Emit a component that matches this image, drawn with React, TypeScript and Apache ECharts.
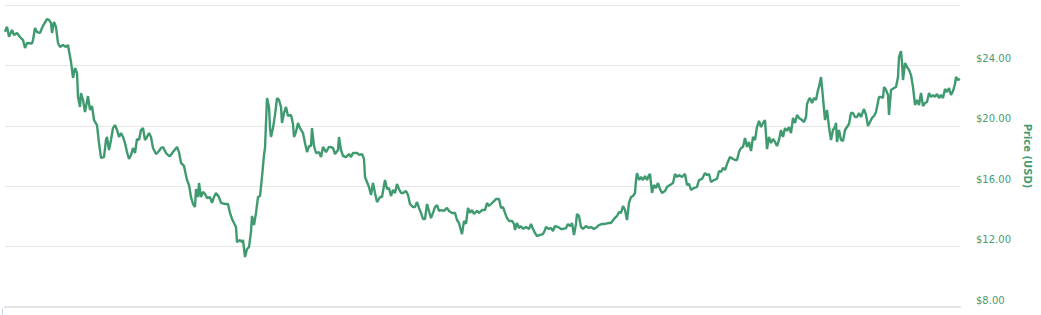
import React, { useEffect, useRef } from "react";
import * as echarts from "echarts";

// Day offsets from the start of the period
const days: number[] = [
  0, 2, 4, 7, 9, 12, 15, 18, 20, 22, 27, 28, 30, 32, 35, 37, 39, 42, 44, 46,
  47, 49, 51, 53, 55, 58, 61, 63, 64, 66, 68, 70, 72, 73, 75, 76, 78, 80, 83, 85,
  87, 89, 92, 94, 96, 99, 101, 102, 104, 106, 108, 110, 112, 114, 116, 118, 120, 122, 124, 126,
  128, 130, 132, 134, 136, 138, 140, 142, 144, 146, 148, 151, 154, 156, 158, 161, 164,
  165, 168, 172, 174, 176, 179, 182, 184, 186, 188, 190, 191, 193, 194, 196, 198, 200, 202, 205,
  207, 209, 211, 214, 216, 220, 223, 225, 227, 229, 231, 232, 235, 237, 238, 240, 242, 244, 246, 247,
  249, 251, 253, 255, 257, 259, 260, 262, 264, 265, 266, 268, 270, 272, 274, 276, 277, 279, 281, 283,
  286, 288, 289, 291, 293, 295, 298, 300, 302, 304, 306, 307, 309, 311, 314, 316, 318, 321, 324,
  325, 328, 330, 333, 334, 336, 338, 341, 344, 346, 348, 352, 354, 357, 359, 360, 362, 364, 366, 368,
  370, 372, 375, 377, 380, 382, 384, 386, 388, 390, 392, 394, 396, 398, 401, 403, 405, 408, 410, 412,
  414, 416, 418, 420, 422, 424, 426, 428, 430, 432, 434, 436, 439, 442, 444, 447, 450, 452, 454, 455,
  457, 459, 461, 463, 465, 467, 469, 472, 474, 477, 480, 482, 484,
  486, 488, 491, 494, 496, 498, 500, 502, 504, 507, 509, 510, 512, 514, 516, 518, 521, 524, 526, 528,
  530, 532, 535, 538, 540, 541, 544, 546, 548, 550, 553, 556, 558, 561, 563, 565, 567, 569, 571, 572,
  574, 576, 578, 581, 584, 586, 589, 592, 594, 597, 600, 603, 606, 609, 612, 614, 616, 618, 620, 622,
  624, 626, 628, 630, 631, 632, 634, 636, 638, 640, 642, 644,
  645, 647, 649, 651, 653, 655, 657, 660, 662, 665, 668, 670, 672, 674, 677, 680, 682, 684, 686, 689,
  692, 694, 697, 700, 702, 704, 706, 709, 712, 714, 716, 718, 720, 722, 725, 728, 730, 732, 734, 736,
  738, 740, 742, 744, 746, 748, 750, 752, 754, 756, 758, 760, 762, 764, 766, 768, 770, 772, 774, 776,
  778, 780, 782, 784, 786, 788, 790, 792, 794, 797, 799, 801, 802, 804,
  805, 807, 809, 811, 813, 814, 816, 817, 818, 820, 822, 824, 826, 828, 830, 831, 832, 834, 836, 838,
  840, 842, 844, 846, 848, 850, 852, 854, 856, 859, 861, 863, 865, 867, 869, 871, 872, 874, 876, 878,
  879, 881, 883, 884, 886, 889, 891, 893, 894, 896, 897, 898, 900, 902, 904, 906, 908, 910, 912, 914,
  916, 918, 920, 922, 924, 926, 928, 930, 932, 934, 936, 938, 940, 942, 944, 946, 948, 950, 951, 953,
  955,
];

// Price in USD for each day above
const prices: number[] = [
  26.23, 26.56, 25.9, 26.34, 26.01, 26.15, 25.88, 25.68, 25.15, 25.48, 25.45, 25.68, 26.48, 26.21, 26.15, 26.48, 26.74, 27.07, 27.01, 26.81,
  26.15, 26.87, 26.54, 25.48, 25.22, 25.35, 25.22, 25.35, 24.95, 24.23, 23.17, 23.83, 23.5, 21.91, 21.25, 22.17, 21.71, 20.91, 21.97, 21.05,
  21.31, 20.38, 20.05, 18.86, 17.87, 17.93, 19.06, 19.26, 18.4, 19.06, 19.85, 20.05, 19.72, 19.26, 19.52, 19.26, 18.86, 18.26, 17.8, 18.07,
  18.53, 18.2, 19.13, 19.06, 19.72, 19.85, 19.06, 19.26, 19.52, 19.26, 18.53, 18.13, 18.33, 18.53, 18.6, 18.2, 18.0,
  18.0, 18.26, 18.6, 18.26, 17.54, 17.34, 16.41, 16.08, 15.28, 14.82, 14.62, 15.81, 15.28, 16.21, 15.28, 15.62, 15.48, 15.22, 15.28,
  14.89, 15.28, 15.55, 15.28, 14.89, 14.82, 14.82, 14.23, 13.83, 13.56, 13.3, 12.3, 12.44, 12.3, 12.44, 11.31, 11.84, 11.97, 12.97, 14.03,
  13.43, 14.23, 15.28, 15.35, 16.61, 18.07, 18.53, 21.84, 21.25, 19.85, 19.26, 19.85, 20.72, 21.84, 21.71, 21.25, 20.19, 20.85, 21.25, 20.65,
  20.72, 20.12, 19.26, 19.59, 20.19, 19.85, 19.52, 18.86, 18.26, 18.66, 18.66, 19.85, 18.66, 18.2, 18.26, 17.93, 18.6, 18.26, 18.6,
  18.6, 18.53, 18.13, 18.4, 19.26, 18.4, 18.0, 17.93, 18.13, 17.93, 18.2, 18.2, 18.07, 18.13, 17.8, 16.61, 16.28, 15.95, 15.42, 16.21,
  15.55, 14.95, 15.28, 15.28, 16.41, 15.81, 15.88, 15.35, 15.75, 15.55, 16.15, 15.81, 15.55, 15.55, 15.68, 15.42, 14.82, 14.62, 14.62, 14.95,
  14.56, 14.23, 13.83, 13.83, 14.82, 14.36, 13.89, 14.23, 14.62, 14.75, 14.36, 14.42, 14.36, 14.56, 14.36, 14.23, 14.23, 13.76, 13.56, 13.3,
  12.83, 13.7, 13.5, 14.56, 14.23, 14.42, 14.16, 14.36, 14.23, 14.42, 14.42, 14.89, 14.69,
  14.82, 14.95, 15.15, 15.15, 14.56, 14.62, 14.23, 13.89, 13.7, 13.7, 13.5, 13.1, 13.56, 13.23, 13.36, 13.17, 13.3, 13.17, 13.5, 13.17,
  12.9, 12.7, 12.77, 12.83, 13.1, 13.3, 13.17, 13.23, 13.03, 13.36, 13.3, 13.17, 13.17, 13.23, 13.5, 13.36, 13.56, 12.77, 13.5, 14.16,
  14.03, 13.3, 13.17, 13.36, 13.23, 13.3, 13.17, 13.3, 13.43, 13.5, 13.5, 13.56, 13.56, 13.83, 14.03, 14.29, 14.23, 14.69, 14.42, 13.76,
  14.89, 15.28, 15.35, 15.55, 16.41, 16.87, 16.41, 16.61, 16.41, 16.68, 16.41, 16.74,
  16.81, 15.55, 16.08, 15.88, 16.21, 15.81, 15.55, 15.68, 15.95, 16.08, 16.21, 16.81, 16.61, 16.74, 16.61, 16.81, 16.08, 16.15, 15.75, 15.88,
  15.95, 16.41, 16.48, 16.87, 16.74, 16.81, 16.28, 16.41, 16.48, 17.01, 16.94, 17.21, 17.07, 17.47, 17.93, 17.8, 17.74, 17.74, 18.26, 18.53,
  18.6, 19.19, 18.6, 18.93, 18.33, 19.26, 19.06, 19.92, 20.32, 19.92, 20.19, 20.38, 18.46, 19.26, 18.86, 19.13, 18.93, 18.66, 19.06, 19.72,
  19.26, 19.85, 19.66, 19.92, 19.52, 20.52, 20.19, 20.72, 20.52, 20.38, 20.25, 20.58, 21.44, 21.77,
  21.84, 21.51, 21.84, 21.71, 22.37, 22.57, 23.23, 22.57, 21.84, 20.38, 21.05, 19.92, 19.06, 19.72, 19.92, 20.19, 18.93, 19.72, 19.06, 18.99,
  19.72, 19.92, 20.12, 20.85, 20.85, 20.58, 20.58, 20.85, 20.58, 21.11, 20.72, 19.99, 20.25, 20.52, 20.65, 20.91, 21.25, 21.91, 21.91, 21.84,
  22.57, 22.37, 22.04, 20.72, 22.37, 22.5, 22.57, 23.23, 24.56, 24.95, 24.16, 23.03, 24.16, 23.89, 23.7, 23.36, 22.57, 21.38, 21.71, 21.38,
  22.17, 21.31, 21.51, 21.58, 22.17, 21.91, 22.04, 21.91, 22.11, 21.84, 22.04, 21.84, 22.44, 22.24, 22.5, 22.04, 22.3, 22.77, 23.23, 23.03,
  23.1,
];

const yMin = 8;
const yMax = 28;
const yStep = 4;

const LINE_GREEN = "#3f9a6f";
const LABEL_GREEN = "#479b74";

export default function App() {
  const ref = useRef<HTMLDivElement>(null);

  useEffect(() => {
    if (!ref.current) return;
    const chart = echarts.init(ref.current, undefined, { renderer: "svg" });
    const data = days.map((d, i) => [d, prices[i]]);
    chart.setOption({
      animation: false,
      grid: { left: 5, right: 81, top: 5, bottom: 8, containLabel: false },
      xAxis: {
        type: "value",
        min: 0,
        max: 955,
        axisLine: { show: true, onZero: false, lineStyle: { color: "#e3e3e3", width: 2 } },
        axisTick: { show: false },
        axisLabel: { show: false },
        splitLine: { show: false },
      },
      yAxis: {
        type: "value",
        position: "right",
        min: yMin,
        max: yMax,
        interval: yStep,
        axisLine: { show: false },
        axisTick: { show: false },
        splitLine: { show: true, lineStyle: { color: "#e6e6e6", width: 1 } },
        axisLabel: {
          showMaxLabel: false,
          color: LABEL_GREEN,
          fontFamily: "DejaVu Sans",
          fontSize: 10,
          margin: 16,
          verticalAlign: "bottom",
          lineHeight: 14,
          formatter: (v: number) => `$${v.toFixed(2)}`,
        },
        name: "Price (USD)",
        nameLocation: "middle",
        nameRotate: -90,
        nameGap: 62,
        nameTextStyle: {
          color: LABEL_GREEN,
          fontFamily: "DejaVu Sans",
          fontSize: 10,
          fontWeight: "bold",
        },
      },
      graphic: [
        {
          type: "line",
          shape: { x1: 2.5, y1: 308, x2: 2.5, y2: 315 },
          style: { stroke: "#ccd6eb", lineWidth: 1 },
          silent: true,
        },
      ],
      series: [
        {
          type: "line",
          data,
          showSymbol: false,
          symbol: "none",
          lineStyle: { color: LINE_GREEN, width: 2.4 },
          silent: true,
        },
      ],
    });
    return () => chart.dispose();
  }, []);

  return <div ref={ref} style={{ width: 1041, height: 315, position: "absolute", left: 0, top: 0 }} />;
}
